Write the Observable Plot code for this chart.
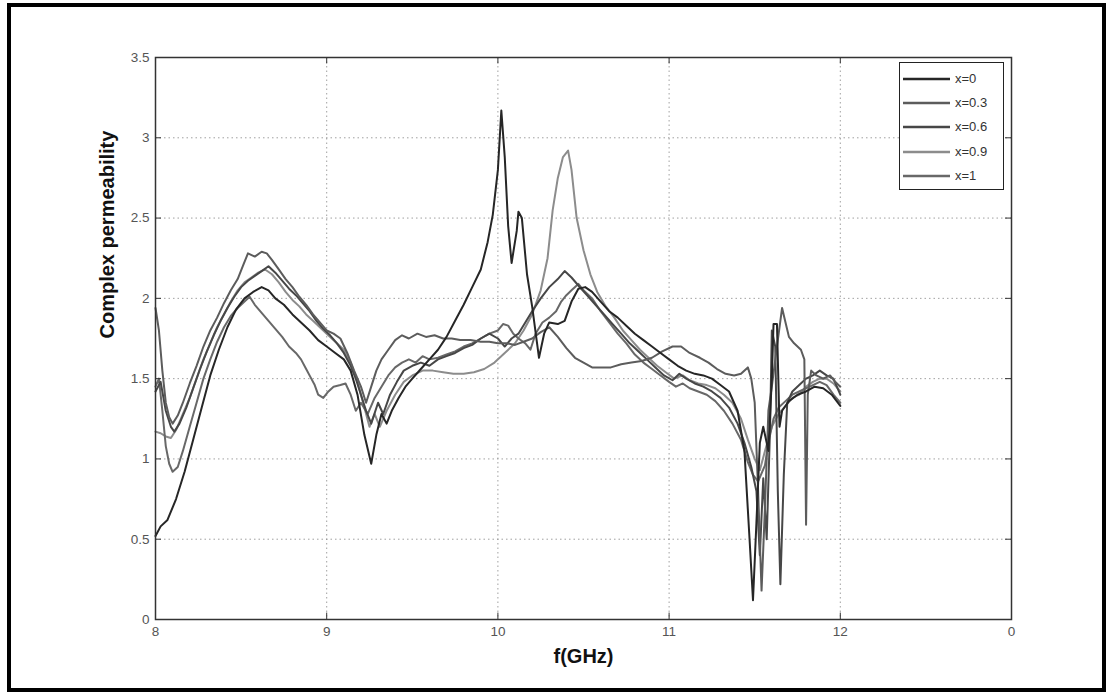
<!DOCTYPE html>
<html>
<head>
<meta charset="utf-8">
<script src="https://cdn.jsdelivr.net/npm/d3@7"></script>
<script src="https://cdn.jsdelivr.net/npm/@observablehq/plot@0.6"></script>
<style>
  html, body { margin: 0; padding: 0; background: #fff; }
  #wrap { position: relative; width: 1113px; height: 697px; overflow: hidden; font-family: "Liberation Sans", Arial, sans-serif; }
  #border { position: absolute; left: 7px; top: 3px; width: 1099px; height: 689px; border: 4px solid #000; box-sizing: border-box; pointer-events: none; }
  #legend { position: absolute; left: 899px; top: 62px; width: 105px; height: 128px; border: 1.5px solid #222; background: #fff; box-sizing: border-box; }
  .lg { position: absolute; left: 0; height: 20px; width: 100%; }
  .lg svg { position: absolute; left: 3px; top: 0; }
  .lg span { position: absolute; left: 55px; top: 2px; font-size: 13px; color: #333; }
</style>
</head>
<body>
<div id="wrap"><div id="chart"></div><div id="legend"></div><div id="border"></div></div>
<script>
const seriesNames = ["x=0", "x=0.3", "x=0.6", "x=0.9", "x=1"];
const seriesColors = ["#262626", "#5c5c5c", "#474747", "#8c8c8c", "#686868"];

const f0 = [8.00,8.03,8.07,8.12,8.17,8.22,8.27,8.32,8.37,8.42,8.47,8.52,8.57,8.62,8.66,8.70,8.75,8.80,8.85,8.90,8.95,9.00,9.05,9.10,9.14,9.18,9.22,9.26,9.29,9.32,9.35,9.38,9.42,9.46,9.50,9.55,9.60,9.65,9.70,9.75,9.80,9.85,9.90,9.94,9.97,10.00,10.02,10.04,10.06,10.08,10.11,10.12,10.14,10.17,10.20,10.24,10.27,10.30,10.35,10.39,10.43,10.47,10.51,10.55,10.60,10.65,10.70,10.75,10.80,10.85,10.90,10.95,11.00,11.05,11.10,11.15,11.20,11.25,11.30,11.35,11.40,11.44,11.47,11.49,11.51,11.53,11.55,11.58,11.60,11.61,11.63,11.645,11.66,11.70,11.75,11.80,11.85,11.90,11.95,12.00];
const v0 = [0.52,0.58,0.62,0.75,0.92,1.12,1.32,1.52,1.68,1.82,1.93,2.00,2.04,2.07,2.05,2.00,1.96,1.90,1.85,1.80,1.74,1.70,1.66,1.62,1.55,1.40,1.15,0.97,1.15,1.28,1.22,1.30,1.38,1.45,1.50,1.56,1.62,1.68,1.76,1.86,1.96,2.07,2.18,2.35,2.52,2.80,3.17,2.88,2.45,2.22,2.42,2.54,2.50,2.15,1.95,1.63,1.78,1.85,1.84,1.86,1.98,2.06,2.07,2.04,1.98,1.92,1.88,1.83,1.78,1.74,1.70,1.66,1.62,1.58,1.55,1.53,1.52,1.50,1.46,1.42,1.30,1.05,0.50,0.12,0.60,1.10,1.20,1.05,1.50,1.84,1.84,1.20,1.30,1.36,1.40,1.42,1.45,1.44,1.40,1.33];

const f1 = [8.00,8.02,8.04,8.06,8.08,8.10,8.13,8.16,8.20,8.24,8.28,8.32,8.36,8.40,8.44,8.48,8.51,8.54,8.58,8.62,8.65,8.68,8.72,8.76,8.80,8.84,8.88,8.92,8.96,9.00,9.04,9.08,9.12,9.16,9.20,9.23,9.26,9.29,9.32,9.36,9.40,9.44,9.48,9.53,9.58,9.63,9.68,9.73,9.78,9.84,9.90,9.95,10.00,10.05,10.10,10.15,10.20,10.25,10.30,10.35,10.40,10.45,10.50,10.55,10.60,10.66,10.72,10.78,10.84,10.90,10.96,11.02,11.07,11.12,11.18,11.23,11.28,11.33,11.38,11.42,11.46,11.48,11.50,11.52,11.54,11.56,11.58,11.60,11.63,11.66,11.68,11.70,11.73,11.77,11.79,11.80,11.81,11.83,11.86,11.90,11.94,11.97,12.00];
const v1 = [1.94,1.80,1.55,1.35,1.26,1.22,1.27,1.35,1.47,1.58,1.70,1.80,1.88,1.97,2.05,2.12,2.20,2.28,2.26,2.29,2.28,2.24,2.18,2.12,2.07,2.01,1.96,1.90,1.85,1.80,1.78,1.75,1.66,1.55,1.45,1.35,1.45,1.55,1.62,1.68,1.74,1.77,1.75,1.78,1.76,1.77,1.75,1.75,1.74,1.74,1.73,1.73,1.72,1.72,1.71,1.73,1.75,1.79,1.82,1.76,1.69,1.63,1.60,1.57,1.57,1.57,1.59,1.60,1.61,1.63,1.67,1.70,1.70,1.66,1.63,1.60,1.56,1.53,1.52,1.53,1.57,1.50,1.35,0.80,0.18,0.70,1.30,1.45,1.70,1.94,1.85,1.76,1.72,1.68,1.62,0.59,1.40,1.55,1.52,1.50,1.52,1.48,1.45];

const f2 = [8.00,8.03,8.06,8.09,8.11,8.14,8.18,8.22,8.26,8.30,8.34,8.38,8.42,8.46,8.50,8.54,8.58,8.62,8.66,8.70,8.74,8.78,8.82,8.86,8.90,8.94,8.98,9.02,9.06,9.10,9.14,9.17,9.20,9.23,9.26,9.30,9.33,9.37,9.41,9.45,9.50,9.55,9.60,9.65,9.70,9.75,9.80,9.85,9.90,9.95,10.00,10.04,10.08,10.12,10.16,10.20,10.25,10.30,10.35,10.39,10.43,10.47,10.52,10.57,10.62,10.67,10.72,10.77,10.82,10.87,10.92,10.97,11.02,11.06,11.10,11.15,11.20,11.25,11.30,11.35,11.40,11.44,11.48,11.51,11.53,11.55,11.57,11.59,11.60,11.62,11.635,11.65,11.67,11.69,11.72,11.76,11.80,11.84,11.88,11.92,11.96,12.00];
const v2 = [1.42,1.48,1.30,1.20,1.17,1.22,1.32,1.44,1.56,1.67,1.77,1.86,1.94,2.01,2.07,2.11,2.14,2.17,2.20,2.16,2.11,2.06,2.02,1.97,1.92,1.86,1.81,1.77,1.72,1.66,1.58,1.50,1.40,1.30,1.22,1.35,1.28,1.40,1.48,1.55,1.58,1.60,1.58,1.62,1.64,1.66,1.69,1.71,1.75,1.78,1.75,1.70,1.75,1.78,1.85,1.92,2.00,2.07,2.12,2.17,2.13,2.08,2.02,1.96,1.90,1.84,1.78,1.72,1.67,1.62,1.57,1.52,1.49,1.53,1.50,1.47,1.45,1.42,1.38,1.32,1.22,1.10,0.95,0.80,0.40,0.88,0.50,1.20,1.80,1.70,0.80,0.22,0.90,1.35,1.42,1.46,1.50,1.52,1.55,1.52,1.50,1.40];

const f3 = [8.00,8.03,8.06,8.09,8.12,8.16,8.20,8.24,8.28,8.32,8.36,8.40,8.44,8.48,8.52,8.56,8.60,8.64,8.68,8.72,8.76,8.80,8.84,8.88,8.92,8.96,9.00,9.05,9.10,9.14,9.18,9.22,9.25,9.28,9.31,9.35,9.40,9.45,9.50,9.56,9.62,9.68,9.74,9.80,9.86,9.92,9.98,10.04,10.10,10.15,10.20,10.25,10.29,10.32,10.35,10.38,10.41,10.43,10.46,10.50,10.54,10.58,10.63,10.68,10.73,10.78,10.83,10.88,10.93,10.98,11.03,11.08,11.12,11.17,11.22,11.27,11.32,11.37,11.42,11.46,11.50,11.53,11.56,11.60,11.64,11.68,11.72,11.76,11.80,11.84,11.88,11.92,11.96,12.00];
const v3 = [1.17,1.16,1.14,1.13,1.18,1.28,1.38,1.50,1.62,1.72,1.82,1.90,1.98,2.05,2.10,2.13,2.16,2.18,2.15,2.10,2.04,1.99,1.95,1.90,1.86,1.82,1.78,1.73,1.68,1.60,1.48,1.32,1.20,1.28,1.20,1.30,1.40,1.48,1.52,1.55,1.55,1.54,1.53,1.53,1.54,1.56,1.60,1.66,1.72,1.80,1.90,2.05,2.25,2.55,2.75,2.88,2.92,2.80,2.50,2.30,2.15,2.04,1.95,1.88,1.80,1.74,1.68,1.63,1.58,1.54,1.50,1.52,1.49,1.47,1.46,1.44,1.40,1.35,1.25,1.12,1.00,0.93,1.05,1.20,1.28,1.33,1.38,1.40,1.45,1.48,1.50,1.50,1.47,1.42];

const f4 = [8.00,8.02,8.04,8.06,8.08,8.10,8.13,8.16,8.20,8.24,8.28,8.32,8.36,8.40,8.44,8.48,8.52,8.55,8.58,8.62,8.66,8.70,8.74,8.78,8.82,8.85,8.88,8.91,8.93,8.95,8.98,9.01,9.04,9.08,9.11,9.14,9.17,9.20,9.24,9.28,9.32,9.36,9.40,9.44,9.48,9.52,9.56,9.60,9.65,9.70,9.75,9.80,9.85,9.90,9.95,10.00,10.03,10.06,10.09,10.12,10.16,10.19,10.22,10.26,10.30,10.34,10.37,10.40,10.43,10.47,10.50,10.55,10.60,10.65,10.70,10.75,10.80,10.85,10.90,10.95,11.00,11.04,11.08,11.12,11.17,11.22,11.27,11.32,11.37,11.42,11.46,11.49,11.52,11.54,11.56,11.58,11.61,11.64,11.68,11.72,11.76,11.80,11.84,11.88,11.92,11.96,12.00];
const v4 = [1.45,1.50,1.30,1.08,0.97,0.92,0.95,1.05,1.20,1.35,1.50,1.62,1.73,1.82,1.89,1.94,1.98,2.01,1.96,1.91,1.86,1.81,1.76,1.70,1.66,1.62,1.56,1.50,1.46,1.40,1.38,1.42,1.45,1.46,1.47,1.40,1.30,1.35,1.28,1.38,1.45,1.52,1.57,1.60,1.62,1.60,1.64,1.62,1.63,1.65,1.67,1.70,1.72,1.75,1.78,1.80,1.84,1.83,1.78,1.75,1.72,1.68,1.78,1.85,1.88,1.92,1.98,2.02,2.05,2.09,2.05,2.00,1.92,1.85,1.78,1.72,1.65,1.60,1.56,1.52,1.48,1.45,1.47,1.44,1.42,1.40,1.36,1.30,1.22,1.12,0.98,0.90,0.86,0.91,0.96,1.10,1.25,1.32,1.36,1.40,1.42,1.44,1.46,1.48,1.46,1.40,1.35];

const xTicks = [8, 9, 10, 11, 12, 13];
const xTickLabels = ["8", "9", "10", "11", "12", "0"];
const yTicks = [0, 0.5, 1, 1.5, 2, 2.5, 3, 3.5];
const yTickLabels = ["0", "0.5", "1", "1.5", "2", "2.5", "3", "3.5"];

const fs = [f0, f1, f2, f3, f4];
const vs = [v0, v1, v2, v3, v4];
const rows = [];
seriesNames.forEach((name, i) => fs[i].forEach((f, j) => rows.push({series: name, f, v: vs[i][j]})));
const drawOrder = ["x=0.9", "x=1", "x=0.6", "x=0.3", "x=0"];

const plot = Plot.plot({
  width: 1113,
  height: 697,
  marginLeft: 155,
  marginRight: 102,
  marginTop: 57,
  marginBottom: 78,
  style: {fontFamily: "Liberation Sans, Arial, sans-serif", background: "transparent"},
  x: {domain: [8, 13]},
  y: {domain: [0, 3.5]},
  color: {domain: seriesNames, range: seriesColors},
  marks: [
    Plot.gridX(xTicks, {stroke: "#888", strokeOpacity: 0.8, strokeDasharray: "1.5,3"}),
    Plot.gridY(yTicks, {stroke: "#888", strokeOpacity: 0.8, strokeDasharray: "1.5,3"}),
    ...drawOrder.map(name => Plot.line(rows.filter(d => d.series === name), {x: "f", y: "v", stroke: "series", strokeWidth: 2, curve: "linear"})),
    Plot.ruleX(xTicks, {x: d => d, y1: 0, y2: 0.04, stroke: "#333"}),
    Plot.ruleX(xTicks, {x: d => d, y1: 3.5, y2: 3.46, stroke: "#333"}),
    Plot.ruleY(yTicks, {y: d => d, x1: 8, x2: 8.035, stroke: "#333"}),
    Plot.ruleY(yTicks, {y: d => d, x1: 13, x2: 12.965, stroke: "#333"}),
    Plot.frame({stroke: "#333", strokeWidth: 1.5}),
    Plot.axisX(xTicks, {tickSize: 0, tickPadding: 7, fontSize: 13.5, fill: "#555", tickFormat: (d, i) => xTickLabels[i], label: null}),
    Plot.axisY(yTicks, {tickSize: 0, tickPadding: 6, fontSize: 13.5, fill: "#555", tickFormat: (d, i) => yTickLabels[i], label: null}),
    Plot.text(["Complex permeability"], {frameAnchor: "left", dx: -48, rotate: -90, fontSize: 20, fontWeight: "bold", fill: "#111"}),
    Plot.text(["f(GHz)"], {frameAnchor: "bottom", dy: 43, fontSize: 20, fontWeight: "bold", fill: "#111"})
  ]
});
document.getElementById("chart").appendChild(plot);

const legend = document.getElementById("legend");
seriesNames.forEach((name, i) => {
  const row = document.createElement("div");
  row.className = "lg";
  row.style.top = (6 + i * 24.2) + "px";
  row.innerHTML = `<svg width="48" height="20"><line x1="0" x2="47" y1="10" y2="10" stroke="${seriesColors[i]}" stroke-width="2.5"/></svg><span>${name}</span>`;
  legend.appendChild(row);
});
</script>
</body>
</html>
